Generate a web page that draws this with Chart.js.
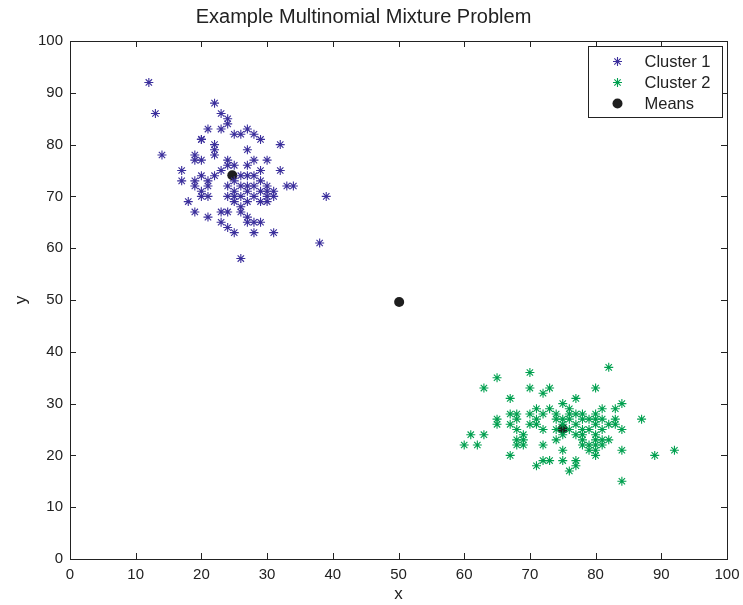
<!DOCTYPE html>
<html>
<head>
<meta charset="utf-8">
<title>Example Multinomial Mixture Problem</title>
<script src="https://cdn.jsdelivr.net/npm/chart.js@4/dist/chart.umd.min.js"></script>
<style>
  html, body { margin: 0; padding: 0; background: #fff; }
  #wrap { width: 743px; height: 605px; }
</style>
</head>
<body>
<div id="wrap"><canvas id="c" width="743" height="605"></canvas></div>
<script>
// Samples drawn from the first mixture component (x, y counts)
const cluster1X = [12,13,14,22,23,24,24,21,20,20,22,22,23,26,27,28,29,25,32,19,19,20,22,24,25,27,28,30,17,17,19,19,20,21,20,20,21,21,22,23,24,24,25,25,26,26,26,27,27,27,27,27,28,28,28,29,29,29,30,30,30,31,31,32,33,34,38,39,18,19,21,23,24,25,23,24,25,26,26,27,27,28,29,26,28,31,24,25,29,30];
const cluster1Y = [92,86,78,88,86,85,84,83,81,81,80,79,83,82,83,82,81,82,80,78,77,77,78,76,76,79,77,77,75,73,73,72,74,73,71,70,70,72,74,75,77,72,71,73,72,74,70,76,74,72,71,69,72,74,70,75,73,71,72,70,69,71,70,75,72,72,61,70,69,67,66,65,64,63,67,67,69,68,67,66,65,65,65,58,63,63,70,70,69,71];

// Samples drawn from the second mixture component
const cluster2X = [60,61,62,63,63,65,65,65,67,67,67,67,68,68,68,68,68,69,69,69,70,70,70,70,71,71,71,71,72,72,72,72,72,73,73,73,74,74,74,74,75,75,75,75,75,75,76,76,76,76,76,77,77,77,77,77,77,78,78,78,78,78,78,79,79,79,79,80,80,80,80,80,80,80,80,80,81,81,81,81,81,82,82,82,83,83,83,84,84,84,84,87,89,92];
const cluster2Y = [22,24,22,24,33,35,27,26,31,28,26,20,28,27,25,23,22,24,22,23,36,33,28,26,29,27,26,18,32,28,25,22,19,33,29,19,28,27,25,23,30,27,26,24,21,19,29,28,27,25,17,31,28,26,24,19,18,28,27,25,24,23,22,27,25,22,21,33,28,27,26,24,23,22,21,20,29,27,25,23,22,37,23,26,29,27,26,30,25,21,15,27,20,21];

// Estimated component means plus the initial guess in the middle
const meansX = [24.7, 50.1, 75.0];
const meansY = [74.1, 49.6, 25.1];

const axisTicks = [0,10,20,30,40,50,60,70,80,90,100];

const toPoints = (xs, ys) => xs.map((x, i) => ({ x: x, y: ys[i] }));

const FONT = "'Liberation Sans', Arial, Helvetica, sans-serif";
const INK = '#222222';

// Draws the boxed frame with inward ticks on all four sides, plus the legend box
const framePlugin = {
  id: 'frame',
  afterDraw(chart) {
    const { ctx, chartArea: a, scales } = chart;
    ctx.save();
    ctx.strokeStyle = INK;
    ctx.lineWidth = 1;
    ctx.strokeRect(Math.round(a.left) + 0.5, Math.round(a.top) + 0.5,
                   Math.round(a.right - a.left), Math.round(a.bottom - a.top));
    const len = 6;
    ctx.beginPath();
    axisTicks.forEach(v => {
      const px = Math.round(scales.x.getPixelForValue(v)) + 0.5;
      ctx.moveTo(px, a.bottom); ctx.lineTo(px, a.bottom - len);
      ctx.moveTo(px, a.top); ctx.lineTo(px, a.top + len);
      const py = Math.round(scales.y.getPixelForValue(v)) + 0.5;
      ctx.moveTo(a.left, py); ctx.lineTo(a.left + len, py);
      ctx.moveTo(a.right, py); ctx.lineTo(a.right - len, py);
    });
    ctx.stroke();

    // legend
    const bx = 588.5, by = 46.5, bw = 134, bh = 71;
    ctx.fillStyle = '#ffffff';
    ctx.fillRect(bx, by, bw, bh);
    ctx.strokeRect(bx, by, bw, bh);
    ctx.font = '16.5px ' + FONT;
    ctx.textBaseline = 'middle';
    ctx.textAlign = 'left';
    chart.data.datasets.forEach((ds, i) => {
      const cy = by + 15 + i * 21;
      const opts = {
        pointStyle: ds.pointStyle,
        radius: ds.pointRadius,
        rotation: 0,
        borderWidth: ds.borderWidth
      };
      ctx.strokeStyle = ds.borderColor;
      ctx.fillStyle = ds.backgroundColor;
      ctx.lineWidth = ds.borderWidth;
      Chart.helpers.drawPoint(ctx, opts, bx + 29, cy);
      ctx.fillStyle = INK;
      ctx.fillText(ds.label, bx + 56, cy + 1);
    });
    ctx.restore();
  }
};

new Chart(document.getElementById('c'), {
  type: 'scatter',
  data: {
    datasets: [
      {
        label: 'Cluster 1',
        data: toPoints(cluster1X, cluster1Y),
        pointStyle: 'star',
        pointRadius: 4.5,
        borderWidth: 1.1,
        borderColor: '#3b2f9c',
        backgroundColor: '#3b2f9c'
      },
      {
        label: 'Cluster 2',
        data: toPoints(cluster2X, cluster2Y),
        pointStyle: 'star',
        pointRadius: 4.5,
        borderWidth: 1.1,
        borderColor: '#00a04f',
        backgroundColor: '#00a04f'
      },
      {
        label: 'Means',
        data: toPoints(meansX, meansY),
        pointStyle: 'circle',
        pointRadius: 5,
        borderWidth: 0,
        borderColor: '#1e1e1e',
        backgroundColor: '#1e1e1e'
      }
    ]
  },
  options: {
    responsive: false,
    animation: false,
    events: [],
    layout: { padding: { left: 0, right: 16, top: 0, bottom: 0 } },
    plugins: {
      legend: { display: false },
      tooltip: { enabled: false },
      title: {
        display: true,
        text: 'Example Multinomial Mixture Problem',
        color: INK,
        font: { family: FONT, size: 20, weight: 'normal', lineHeight: 1.2 },
        padding: { top: 5, bottom: 12 }
      }
    },
    scales: {
      x: {
        type: 'linear',
        min: 0, max: 100,
        afterBuildTicks(scale) { scale.ticks = axisTicks.map(v => ({ value: v })); },
        afterFit(scale) {
          scale.height = 46;
          scale.paddingLeft = 0;
          scale.paddingRight = 0;
        },
        grid: { display: false, drawTicks: false },
        border: { display: false },
        ticks: { color: INK, padding: 7, font: { family: FONT, size: 15 } },
        title: {
          display: true, text: 'x', color: INK,
          font: { family: FONT, size: 17 }, padding: { top: 0, bottom: 0 }
        }
      },
      y: {
        type: 'linear',
        min: 0, max: 100,
        afterBuildTicks(scale) { scale.ticks = axisTicks.map(v => ({ value: v })); },
        afterFit(scale) {
          scale.width = 70;
          scale.paddingTop = 0;
          scale.paddingBottom = 0;
        },
        grid: { display: false, drawTicks: false },
        border: { display: false },
        ticks: { color: INK, padding: 7, font: { family: FONT, size: 15 } },
        title: {
          display: true, text: 'y', color: INK,
          font: { family: FONT, size: 17 }, padding: { top: 11, bottom: 4 }
        }
      }
    }
  },
  plugins: [framePlugin]
});
</script>
</body>
</html>
